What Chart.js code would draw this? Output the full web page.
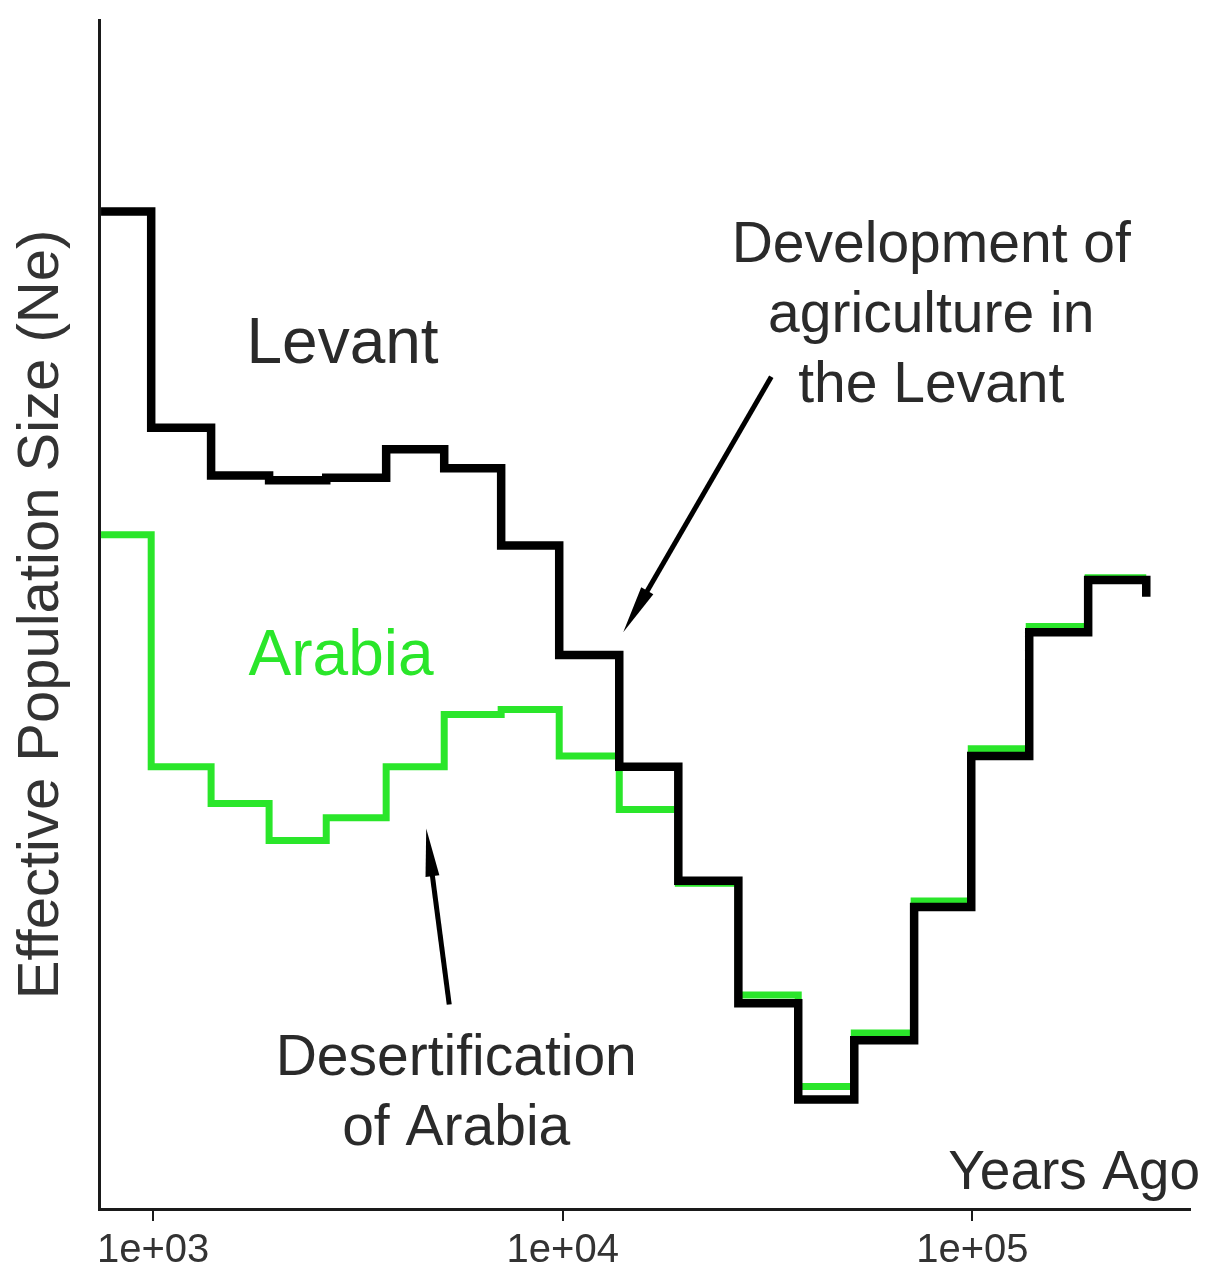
<!DOCTYPE html>
<html>
<head>
<meta charset="utf-8">
<script src="https://cdn.jsdelivr.net/npm/chart.js@4.4.1/dist/chart.umd.min.js"></script>
<style>
  html, body { margin: 0; padding: 0; background: #fff; }
  #wrap { width: 1207px; height: 1281px; }
</style>
</head>
<body>
<div id="wrap"><canvas id="myChart"></canvas></div>
<script>
// step start times (years ago), last entry closes the final step
const years = [746, 989, 1385, 1919, 2646, 3706, 5136, 7074, 9804, 13740,
               19150, 26840, 37580, 51500, 72100, 99400, 137700, 191800, 265900];
// effective population size (relative units, axis is unlabeled)
const levant = [83.9, 65.7, 61.7, 61.3, 61.5, 63.9, 62.3, 55.8, 46.6, 37.2,
                27.6, 17.3, 9.2, 14.2, 25.4, 38.1, 48.5, 52.9, 51.5];
const arabia = [56.7, 37.2, 34.1, 31.0, 32.9, 37.2, 41.6, 42.0, 38.1, 33.6,
                27.4, 18.0, 10.3, 14.8, 25.9, 38.7, 49.0, 53.1, 53.1];
const tickValues = [1000, 10000, 100000];
const tickLabels = ['1e+03', '1e+04', '1e+05'];

const FONT = '"Liberation Sans", Arial, Helvetica, sans-serif';
const TEXT = '#2a2a2a';
const GREEN = '#2ae62a';

const toPoints = vals => years.map((x, i) => ({ x: x, y: vals[i] }));

// labels and arrows, placed in data coordinates
const notes = {
  id: 'notes',
  afterDatasetsDraw(chart) {
    const { ctx, scales: { x, y }, chartArea } = chart;
    const px = v => x.getPixelForValue(v);
    const py = v => y.getPixelForValue(v);
    ctx.save();
    ctx.textBaseline = 'middle';

    ctx.font = '64px ' + FONT;
    ctx.textAlign = 'left';
    ctx.fillStyle = TEXT;
    ctx.fillText('Levant', px(1690), py(72.6));
    ctx.fillStyle = GREEN;
    ctx.fillText('Arabia', px(1710), py(46.4));

    ctx.font = '57px ' + FONT;
    ctx.textAlign = 'center';
    ctx.fillStyle = TEXT;
    ['Development of', 'agriculture in', 'the Levant'].forEach((t, i) => {
      ctx.fillText(t, px(79400), py(81.0) + i * 70);
    });
    ['Desertification', 'of Arabia'].forEach((t, i) => {
      ctx.fillText(t, px(5495), py(12.6) + i * 70);
    });

    ctx.font = '55px ' + FONT;
    ctx.textAlign = 'right';
    ctx.fillText('Years Ago', chartArea.right + 10, py(3.0));

    const arrow = (x0, y0, x1, y1) => {
      const a = Math.atan2(y1 - y0, x1 - x0);
      const len = 48, hw = 7;
      ctx.strokeStyle = '#000';
      ctx.fillStyle = '#000';
      ctx.lineWidth = 5;
      ctx.beginPath();
      ctx.moveTo(x0, y0);
      ctx.lineTo(x1 - Math.cos(a) * len * 0.6, y1 - Math.sin(a) * len * 0.6);
      ctx.stroke();
      ctx.beginPath();
      ctx.moveTo(x1, y1);
      ctx.lineTo(x1 - Math.cos(a) * len - Math.sin(a) * hw, y1 - Math.sin(a) * len + Math.cos(a) * hw);
      ctx.lineTo(x1 - Math.cos(a) * len + Math.sin(a) * hw, y1 - Math.sin(a) * len - Math.cos(a) * hw);
      ctx.closePath();
      ctx.fill();
    };
    arrow(px(32300), py(70.0), px(14050), py(48.5));
    arrow(px(5283), py(17.2), px(4642), py(32.0));
    ctx.restore();
  }
};

const ctx = document.getElementById('myChart');

const chart = new Chart(ctx, {
  type: 'line',
  data: {
    datasets: [{
      label: 'Levant',
      data: toPoints(levant),
      borderColor: '#000',
      borderWidth: 8.5,
      stepped: 'before',
      borderJoinStyle: 'miter',
      pointRadius: 0,
      fill: false
    }, {
      label: 'Arabia',
      data: toPoints(arabia),
      borderColor: GREEN,
      borderWidth: 7,
      stepped: 'before',
      borderJoinStyle: 'miter',
      pointRadius: 0,
      fill: false
    }]
  },
  options: {
    responsive: true,
    maintainAspectRatio: false,
    animation: false,
    layout: { padding: { top: 20, right: 17, bottom: 0, left: 0 } },
    plugins: {
      legend: { display: false },
      tooltip: { enabled: false }
    },
    scales: {
      x: {
        type: 'logarithmic',
        min: 740,
        max: 340000,
        border: { display: true, color: '#1a1a1a', width: 3 },
        grid: {
          display: true,
          drawOnChartArea: false,
          drawTicks: true,
          tickLength: 12,
          color: '#1a1a1a',
          lineWidth: 2
        },
        afterBuildTicks: scale => {
          scale.ticks = tickValues.map(v => ({ value: v }));
        },
        ticks: {
          autoSkip: false,
          maxRotation: 0,
          padding: 6,
          color: '#333',
          font: { family: FONT, size: 40 },
          callback: (v, i) => tickLabels[i]
        }
      },
      y: {
        min: 0,
        max: 100,
        border: { display: true, color: '#1a1a1a', width: 3 },
        grid: { display: false, drawTicks: false },
        ticks: { display: false },
        title: {
          display: true,
          text: 'Effective Population Size (Ne)',
          color: '#333',
          font: { family: FONT, size: 58, weight: 'normal' },
          padding: { top: 7, bottom: 23 }
        }
      }
    }
  },
  plugins: [notes]
});
</script>
</body>
</html>
